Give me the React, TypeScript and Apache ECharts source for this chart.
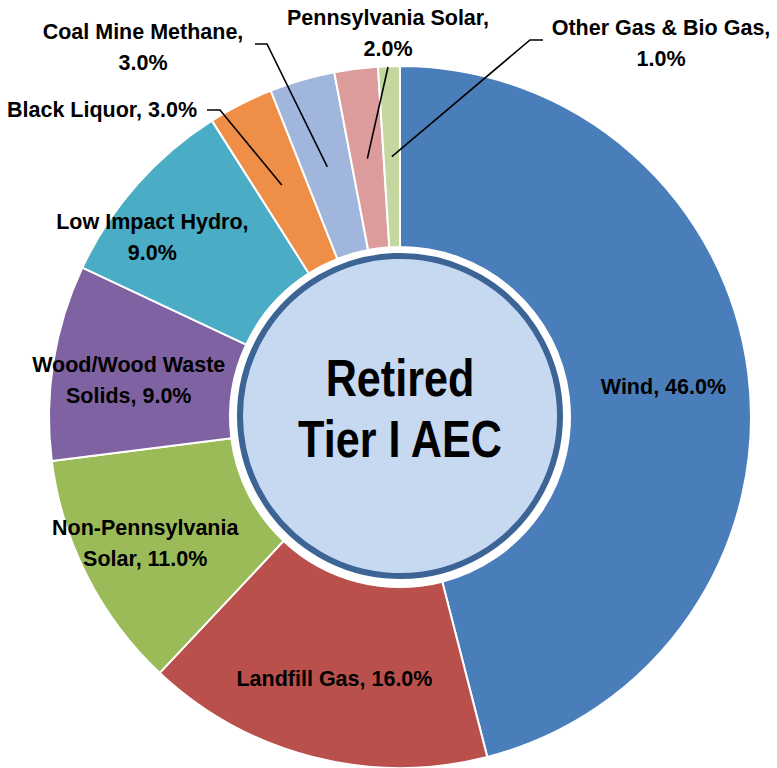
import React, { useEffect, useRef } from "react";
import * as echarts from "echarts";

// ---- data ----
const categories = [
  "Wind",
  "Landfill Gas",
  "Non-Pennsylvania Solar",
  "Wood/Wood Waste Solids",
  "Low Impact Hydro",
  "Black Liquor",
  "Coal Mine Methane",
  "Pennsylvania Solar",
  "Other Gas & Bio Gas",
];
const values = [46, 16, 11, 9, 9, 3, 3, 2, 1];
// label text with line breaks as shown in the chart
const labelNames = [
  "Wind",
  "Landfill Gas",
  "Non-Pennsylvania\nSolar",
  "Wood/Wood Waste\nSolids",
  "Low Impact Hydro",
  "Black Liquor",
  "Coal Mine Methane",
  "Pennsylvania Solar",
  "Other Gas & Bio Gas",
];
const breakAfterComma = [false, false, false, false, true, false, true, true, true];
const colors = [
  "#4a7ebb",
  "#b9504c",
  "#9bbb59",
  "#7f62a1",
  "#4aacc5",
  "#ef8f47",
  "#a0b6dd",
  "#dc9c9c",
  "#c4d79e",
];
const centerTitle = "Retired\nTier I AEC";

const FONT = "'Liberation Sans', Arial, sans-serif";

export default function App() {
  const ref = useRef<HTMLDivElement>(null);

  useEffect(() => {
    document.body.style.margin = "0";
    if (!ref.current) return;
    const chart = echarts.init(ref.current, null, { renderer: "svg" });

    const cx = 400;
    const cy = 417;
    const rOuter = 351;
    const rInner = 170;
    const rMid = (rOuter + rInner) / 2;

    const total = values.reduce((a, b) => a + b, 0);
    const midFrac: number[] = [];
    let acc = 0;
    values.forEach((v) => {
      midFrac.push((acc + v / 2) / total);
      acc += v;
    });
    const midPoint = (i: number, r: number) => {
      const ang = -Math.PI / 2 + 2 * Math.PI * midFrac[i];
      return [cx + r * Math.cos(ang), cy + r * Math.sin(ang)];
    };

    // layout for labels (positions only)
    const insideNudge: Record<number, [number, number]> = {
      0: [2, 3],
      1: [0, 7],
      2: [-20, 7],
      3: [-11, 5],
      4: [-50, -5],
    };
    const outsideLayout: Record<
      number,
      { x: number; y: number; align: string; leader: number[][] }
    > = {
      5: { x: 197, y: 110, align: "right", leader: [[220, 110], [207, 110]] },
      6: { x: 143, y: 47, align: "center", leader: [[267, 44], [255, 44]] },
      7: { x: 388, y: 33, align: "center", leader: [[388, 67]] },
      8: { x: 661, y: 43, align: "center", leader: [[530, 40], [543, 40]] },
    };

    const data = categories.map((name, i) => ({
      name,
      value: values[i],
      itemStyle: { color: colors[i] },
    }));

    const leaderLines = Object.keys(outsideLayout).map((k) => {
      const i = Number(k);
      return {
        type: "polyline",
        z: 20,
        shape: { points: [midPoint(i, rMid), ...outsideLayout[i].leader] },
        style: { stroke: "#000", lineWidth: 1.6, fill: null },
        silent: true,
      };
    });

    chart.setOption({
      animation: false,
      series: [
        {
          type: "pie",
          center: [cx, cy],
          radius: [rInner, rOuter],
          startAngle: 90,
          clockwise: true,
          avoidLabelOverlap: false,
          itemStyle: { borderColor: "#ffffff", borderWidth: 2 },
          label: {
            show: true,
            position: "inside",
            color: "#000",
            fontFamily: FONT,
            fontWeight: "bold",
            fontSize: 21.5,
            lineHeight: 31,
            align: "center",
            formatter: (p: any) => {
              const i = p.dataIndex;
              const pct = Number(p.value).toFixed(1) + "%";
              return labelNames[i] + "," + (breakAfterComma[i] ? "\n" : " ") + pct;
            },
          },
          labelLine: { show: false },
          emphasis: { disabled: true },
          labelLayout: (p: any) => {
            const i = p.dataIndex;
            if (insideNudge[i]) {
              return { dx: insideNudge[i][0], dy: insideNudge[i][1] };
            }
            const o = outsideLayout[i];
            if (!o) return {};
            return { x: o.x, y: o.y, align: o.align, verticalAlign: "middle" };
          },
          data,
        },
      ],
      graphic: [
        ...leaderLines,
        {
          type: "circle",
          shape: { cx, cy: cy - 1, r: 160 },
          style: { fill: "#c6d9f1", stroke: "#3c6494", lineWidth: 6 },
          z: 10,
        },
        {
          type: "text",
          x: cx,
          y: cy - 8,
          scaleX: 0.83,
          z: 11,
          style: {
            text: centerTitle,
            fill: "#000",
            font: `bold 52px ${FONT}`,
            lineHeight: 61,
            align: "center",
            verticalAlign: "middle",
          },
        },
      ],
    });

    return () => chart.dispose();
  }, []);

  return <div ref={ref} style={{ width: 777, height: 768 }} />;
}
